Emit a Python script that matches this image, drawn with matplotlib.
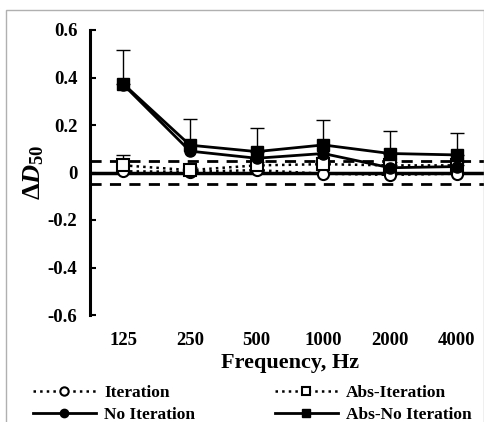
import matplotlib
matplotlib.use('Agg')
import matplotlib.pyplot as plt
from matplotlib.patches import Rectangle
import numpy as np

# dados
frequencias = ['125', '250', '500', '1000', '2000', '4000']
iteracao = [0.005, 0.003, 0.01, -0.005, -0.01, -0.005]
abs_iteracao = [0.03, 0.01, 0.03, 0.035, 0.03, 0.03]
sem_iteracao = [0.37, 0.09, 0.06, 0.08, 0.02, 0.025]
abs_sem_iteracao = [0.373, 0.115, 0.088, 0.116, 0.08, 0.074]
erro_abs_iteracao = [0.045, 0.015, 0.015, 0.012, 0.015, 0.015]
erro_abs_sem_iteracao = [0.143, 0.112, 0.10, 0.105, 0.096, 0.091]

plt.rcParams['font.family'] = ['Liberation Serif', 'DejaVu Serif']
plt.rcParams['font.weight'] = 'bold'
plt.rcParams['mathtext.fontset'] = 'custom'
plt.rcParams['mathtext.rm'] = 'Liberation Serif:bold'
plt.rcParams['mathtext.it'] = 'Liberation Serif:italic:bold'
plt.rcParams['mathtext.bf'] = 'Liberation Serif:bold'

fig = plt.figure(figsize=(4.85, 4.22), dpi=100)
ax = fig.add_axes([90 / 485, 107 / 422, 400 / 485, 285 / 422])

x = np.arange(len(frequencias))

ax.axhline(0.05, color='black', lw=2, ls=(0, (4, 3)), zorder=1)
ax.axhline(-0.05, color='black', lw=2, ls=(0, (4, 3)), zorder=1)
ax.axhline(0, color='black', lw=2.5, zorder=1)

ax.errorbar(x, abs_iteracao, yerr=[np.zeros(6), erro_abs_iteracao], fmt='none',
            ecolor='black', elinewidth=1, capsize=5, capthick=1, zorder=2)
ax.errorbar(x, abs_sem_iteracao, yerr=[np.zeros(6), erro_abs_sem_iteracao], fmt='none',
            ecolor='black', elinewidth=1, capsize=5, capthick=1, zorder=2)

l1, = ax.plot(x, iteracao, ls=':', lw=1.8, color='black', marker='o', ms=8,
              mfc='white', mec='black', mew=1.5, zorder=3, label='Iteration')
l2, = ax.plot(x, abs_iteracao, ls=':', lw=1.8, color='black', marker='s', ms=8,
              mfc='white', mec='black', mew=1.5, zorder=4, label='Abs-Iteration')
l3, = ax.plot(x, sem_iteracao, ls='-', lw=2, color='black', marker='o', ms=8,
              mfc='black', mec='black', zorder=5, label='No Iteration')
l4, = ax.plot(x, abs_sem_iteracao, ls='-', lw=2, color='black', marker='s', ms=8,
              mfc='black', mec='black', zorder=6, label='Abs-No Iteration')

ax.set_xlim(-0.5, 5.5)
ax.set_ylim(-0.6, 0.6)
ax.set_yticks([-0.6, -0.4, -0.2, 0, 0.2, 0.4, 0.6])
ax.set_yticklabels(['-0.6', '-0.4', '-0.2', '0', '0.2', '0.4', '0.6'])
ax.set_xticks(x)
ax.set_xticklabels(frequencias)
ax.tick_params(axis='x', length=0, pad=12, labelsize=13.5)
ax.tick_params(axis='y', direction='in', length=4, width=1.5, pad=9, labelsize=13.5)
for s in ['top', 'right', 'bottom']:
    ax.spines[s].set_visible(False)
ax.spines['left'].set_linewidth(2.2)

ax.set_xlabel('Frequency, Hz', fontsize=16, fontweight='bold', labelpad=3)
ax.set_ylabel(r'$\Delta\mathit{D}_{\mathbf{50}}$', fontsize=19, labelpad=1)

fig.legend([l1, l3, l2, l4], ['Iteration', 'No Iteration', 'Abs-Iteration', 'Abs-No Iteration'],
           ncol=2, loc='lower left', bbox_to_anchor=(33 / 485, -0.002), frameon=False,
           fontsize=12.5, handlelength=3.6, handletextpad=0.5, columnspacing=4.6,
           labelspacing=0.3, borderpad=0, borderaxespad=0, markerscale=0.75)

fig.patches.append(Rectangle((6 / 485, -0.01), 478 / 485, 0.986, transform=fig.transFigure,
                             fill=False, edgecolor='#b0b0b0', lw=1))

plt.savefig('out.png', dpi=100)
